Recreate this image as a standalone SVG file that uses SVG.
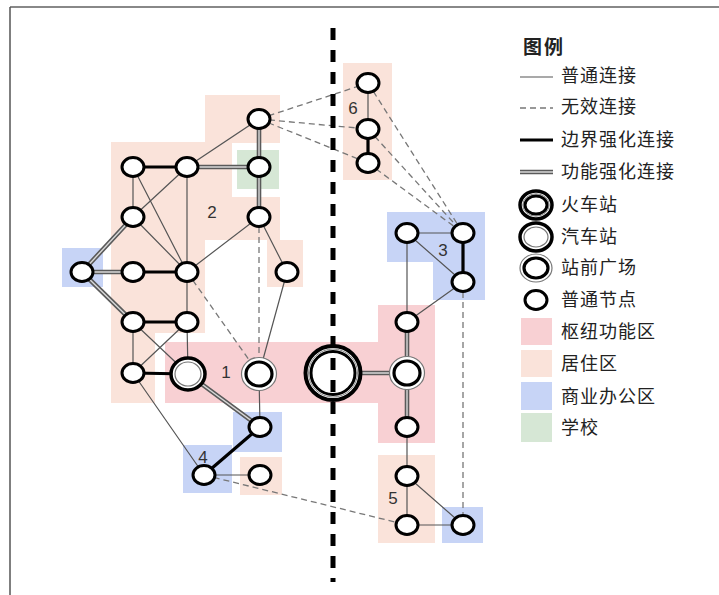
<svg xmlns="http://www.w3.org/2000/svg" width="719" height="595" viewBox="0 0 719 595">
<style>
.n{fill:#fff;stroke:#000;stroke-width:3}
.thin{stroke:#555;stroke-width:1.2;fill:none}
.thick{stroke:#000;stroke-width:3.2;fill:none}
.dash{stroke:#777;stroke-width:1.3;stroke-dasharray:6 4;fill:none}
.dbl{stroke:#5a5a5a;stroke-width:4.6;fill:none}
.dbli{stroke:#d8d8d8;stroke-width:1.4;fill:none}
.res{fill:#fae3da}
.hub{fill:#f8d0d3}
.biz{fill:#c7d4f6}
.sch{fill:#d6e7d5}
.lbl{font-family:"Liberation Sans",Arial,sans-serif;font-size:17px;fill:#333}
.lg{font-family:"Noto Sans CJK SC","Noto Sans",sans-serif;font-size:18px;letter-spacing:1px;fill:#222}
</style>
<rect width="719" height="595" fill="#fff"/>
<line x1="10" y1="7" x2="719" y2="7" stroke="#888" stroke-width="2"/>
<line x1="10" y1="7" x2="10" y2="595" stroke="#555" stroke-width="1.5"/>
<g id="regions">
<rect class="res" x="205" y="95" width="75" height="48"/>
<rect class="res" x="111" y="142" width="121" height="56"/>
<rect class="res" x="111" y="197" width="169" height="43"/>
<rect class="res" x="111" y="239" width="94" height="94"/>
<rect class="res" x="111" y="332" width="44" height="71"/>
<rect class="res" x="267" y="240" width="36" height="47"/>
<rect class="res" x="343" y="63" width="49" height="117"/>
<rect class="res" x="378" y="455" width="57" height="88"/>
<rect class="res" x="240" y="457" width="42" height="38"/>
<rect class="hub" x="165" y="342" width="214" height="61"/>
<rect class="hub" x="378" y="305" width="57" height="138"/>
<rect class="biz" x="62" y="248" width="41" height="39"/>
<rect class="biz" x="233" y="412" width="49" height="40"/>
<rect class="biz" x="183" y="445" width="49" height="48"/>
<rect class="biz" x="387" y="212" width="98" height="50"/>
<rect class="biz" x="433" y="261" width="52" height="39"/>
<rect class="biz" x="442" y="507" width="41" height="36"/>
<rect class="sch" x="237" y="150" width="42" height="39"/>
</g>
<g id="connectors">
<!-- thin -->
<path class="thin" d="M259,119 L187,167 M133,167 L133,217 M133,167 L187,272 M187,167 L133,217 M187,167 L187,272 M133,217 L187,272 M259,217 L187,272 M259,217 L287,272 M287,272 L259,374 M187,272 L187,322 M133,322 L133,373 M133,322 L188,374 M187,322 L133,373 M187,322 L188,374 M133,373 L204,475 M259,374 L260,427 M204,475 L260,475 M407,476 L407,427 M407,476 L407,525 M407,476 L463,525 M407,525 L463,525 M407,322 L407,233 M407,322 L463,282 M407,233 L463,233 M407,233 L463,282 M368,83 L368,129"/>
<!-- thick -->
<path class="thick" d="M133,167 L187,167 M82,272 L133,272 L187,272 M133,322 L187,322 M133,373 L188,374 M260,427 L204,475 M463,233 L463,282 M368,129 L368,163"/>
<!-- dashed -->
<path class="dash" d="M259,217 L259,374 M187,272 L259,374 M204,475 L407,525 M463,282 L463,525 M259,119 L368,83 M259,119 L368,129 M259,119 L368,163 M368,83 L463,233 M368,129 L463,233 M368,163 L463,233"/>
<!-- double -->
<path class="dbl" d="M259,119 L259,167 L259,217 M187,167 L259,167 M133,217 L82,272 M82,272 L133,272 M82,272 L133,322 M188,374 L260,427 M333,373 L407,373 M407,322 L407,373 L407,427"/>
<path class="dbli" d="M259,119 L259,167 L259,217 M187,167 L259,167 M133,217 L82,272 M82,272 L133,272 M82,272 L133,322 M188,374 L260,427 M333,373 L407,373 M407,322 L407,373 L407,427"/>
</g>
<g id="n-A"><ellipse class="n" cx="259" cy="119" rx="11" ry="9.5"/></g>
<g id="n-B"><ellipse class="n" cx="133" cy="167" rx="11" ry="9.5"/></g>
<g id="n-C"><ellipse class="n" cx="187" cy="167" rx="11" ry="9.5"/></g>
<g id="n-D"><ellipse class="n" cx="259" cy="167" rx="11" ry="9.5"/></g>
<g id="n-E"><ellipse class="n" cx="133" cy="217" rx="11" ry="9.5"/></g>
<g id="n-F"><ellipse class="n" cx="259" cy="217" rx="11" ry="9.5"/></g>
<g id="n-G"><ellipse class="n" cx="82" cy="272" rx="11" ry="9.5"/></g>
<g id="n-H"><ellipse class="n" cx="133" cy="272" rx="11" ry="9.5"/></g>
<g id="n-I"><ellipse class="n" cx="187" cy="272" rx="11" ry="9.5"/></g>
<g id="n-J"><ellipse class="n" cx="287" cy="272" rx="11" ry="9.5"/></g>
<g id="n-K"><ellipse class="n" cx="133" cy="322" rx="11" ry="9.5"/></g>
<g id="n-L"><ellipse class="n" cx="187" cy="322" rx="11" ry="9.5"/></g>
<g id="n-M"><ellipse class="n" cx="133" cy="373" rx="11" ry="9.5"/></g>
<g id="n-N"><ellipse cx="188" cy="374" rx="17" ry="16" fill="#fff" stroke="#000" stroke-width="3.5"/><ellipse cx="188" cy="374" rx="13" ry="12" fill="none" stroke="#777" stroke-width="1.2"/></g>
<g id="n-O"><ellipse cx="259" cy="374" rx="17.5" ry="16.5" fill="#fff" stroke="#777" stroke-width="1.2"/><ellipse cx="259" cy="374" rx="13" ry="12" fill="none" stroke="#000" stroke-width="3.2"/></g>
<g id="n-Q"><ellipse class="n" cx="260" cy="427" rx="11" ry="9.5"/></g>
<g id="n-R"><ellipse class="n" cx="204" cy="475" rx="11" ry="9.5"/></g>
<g id="n-S"><ellipse class="n" cx="260" cy="475" rx="11" ry="9.5"/></g>
<g id="n-T"><ellipse class="n" cx="368" cy="83" rx="11" ry="9.5"/></g>
<g id="n-U"><ellipse class="n" cx="368" cy="129" rx="11" ry="9.5"/></g>
<g id="n-V"><ellipse class="n" cx="368" cy="163" rx="11" ry="9.5"/></g>
<g id="n-W"><ellipse class="n" cx="407" cy="233" rx="11" ry="9.5"/></g>
<g id="n-X"><ellipse class="n" cx="463" cy="233" rx="11" ry="9.5"/></g>
<g id="n-Y"><ellipse class="n" cx="463" cy="282" rx="11" ry="9.5"/></g>
<g id="n-Z"><ellipse class="n" cx="407" cy="322" rx="11" ry="9.5"/></g>
<g id="n-AA"><ellipse cx="407" cy="373" rx="17.5" ry="16.5" fill="#fff" stroke="#777" stroke-width="1.2"/><ellipse cx="407" cy="373" rx="13" ry="12" fill="none" stroke="#000" stroke-width="3.2"/></g>
<g id="n-AB"><ellipse class="n" cx="407" cy="427" rx="11" ry="9.5"/></g>
<g id="n-AC"><ellipse class="n" cx="407" cy="476" rx="11" ry="9.5"/></g>
<g id="n-AD"><ellipse class="n" cx="407" cy="525" rx="11" ry="9.5"/></g>
<g id="n-AE"><ellipse class="n" cx="463" cy="525" rx="11" ry="9.5"/></g>
<g id="n-P"><ellipse cx="333" cy="373" rx="27.5" ry="27" fill="#fff" stroke="#000" stroke-width="4"/><ellipse cx="333" cy="373" rx="24.5" ry="24" fill="none" stroke="#888" stroke-width="1"/><ellipse cx="333" cy="373" rx="22" ry="21.5" fill="none" stroke="#000" stroke-width="3"/></g>
<g id="divider"><line x1="333" y1="28" x2="333" y2="582" stroke="#000" stroke-width="5" stroke-dasharray="12 10"/></g>
<g id="labels">
<text class="lbl" x="226" y="378" text-anchor="middle">1</text>
<text class="lbl" x="212" y="218" text-anchor="middle">2</text>
<text class="lbl" x="443" y="256" text-anchor="middle">3</text>
<text class="lbl" x="203" y="463" text-anchor="middle">4</text>
<text class="lbl" x="393" y="504" text-anchor="middle">5</text>
<text class="lbl" x="353" y="114" text-anchor="middle">6</text>
</g>
<g id="legend">
<text x="523" y="54" font-family="Noto Sans CJK SC,sans-serif" font-size="19" font-weight="bold" letter-spacing="2" fill="#222">图例</text>
<line x1="520" y1="77" x2="553" y2="77" class="thin"/>
<text class="lg" x="561" y="82">普通连接</text>
<line x1="520" y1="108" x2="553" y2="108" class="dash"/>
<text class="lg" x="561" y="113">无效连接</text>
<line x1="520" y1="140" x2="553" y2="140" class="thick"/>
<text class="lg" x="561" y="146">边界强化连接</text>
<line x1="520" y1="172" x2="553" y2="172" class="dbl"/>
<line x1="520" y1="172" x2="553" y2="172" class="dbli"/>
<text class="lg" x="561" y="178">功能强化连接</text>
<ellipse cx="536" cy="205" rx="16" ry="14" fill="#fff" stroke="#000" stroke-width="3.5"/>
<ellipse cx="536" cy="205" rx="13.2" ry="11.2" fill="none" stroke="#888" stroke-width="1"/>
<ellipse cx="536" cy="205" rx="11" ry="9" fill="none" stroke="#000" stroke-width="3"/>
<text class="lg" x="561" y="211">火车站</text>
<ellipse cx="536" cy="237" rx="16" ry="14" fill="#fff" stroke="#000" stroke-width="3.5"/>
<ellipse cx="536" cy="237" rx="12" ry="10" fill="none" stroke="#777" stroke-width="1.2"/>
<text class="lg" x="561" y="243">汽车站</text>
<ellipse cx="536" cy="268" rx="16" ry="14" fill="#fff" stroke="#777" stroke-width="1.2"/>
<ellipse cx="536" cy="268" rx="12" ry="10" fill="none" stroke="#000" stroke-width="3.2"/>
<text class="lg" x="561" y="274">站前广场</text>
<ellipse class="n" cx="536" cy="300" rx="11" ry="9.5"/>
<text class="lg" x="561" y="306">普通节点</text>
<rect class="hub" x="521" y="318" width="31" height="27"/>
<text class="lg" x="561" y="338">枢纽功能区</text>
<rect class="res" x="521" y="350" width="31" height="27"/>
<text class="lg" x="561" y="370">居住区</text>
<rect class="biz" x="521" y="382" width="31" height="28"/>
<text class="lg" x="561" y="403">商业办公区</text>
<rect class="sch" x="521" y="413" width="31" height="29"/>
<text class="lg" x="561" y="434">学校</text>
</g>
</svg>
